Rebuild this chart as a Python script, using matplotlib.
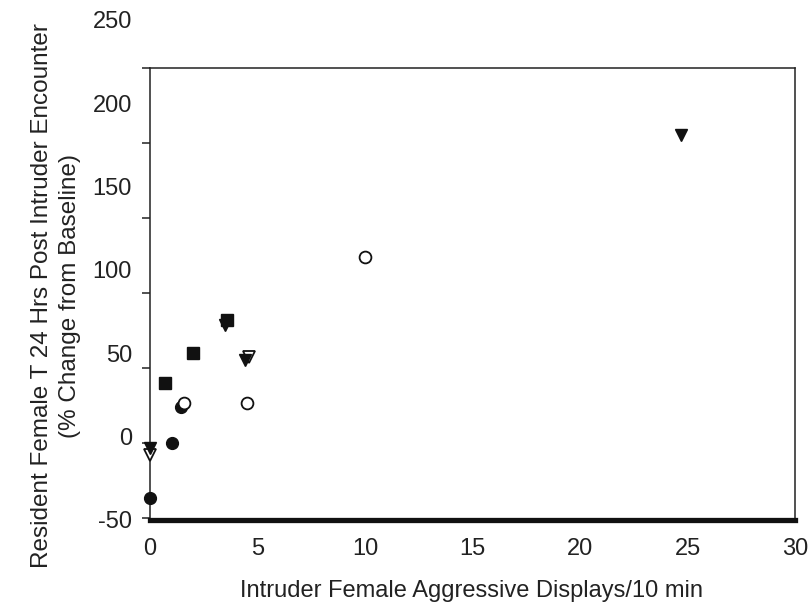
import matplotlib
matplotlib.use("Agg")
import matplotlib.pyplot as plt

plt.rcParams["font.family"] = ["Liberation Sans", "DejaVu Sans"]
plt.rcParams["axes.unicode_minus"] = False

# data (x = displays/10 min, y = % change)
filled_circle_x = [0.0, 1.0, 1.45]
filled_circle_y = [-37, -4, 18]
open_circle_x = [1.6, 4.5, 10.0]
open_circle_y = [20, 20, 108]
square_x = [0.7, 2.0, 3.6]
square_y = [32, 50, 70]
filled_tri_x = [0.0, 3.5, 4.4, 24.7]
filled_tri_y = [-7, 67, 46, 181]
open_tri_x = [0.0, 4.6]
open_tri_y = [-11, 48]

xticks = [0, 5, 10, 15, 20, 25, 30]
yticks = [-50, 0, 50, 100, 150, 200, 250]
# tick marks on the left spine sit off the labels in the original
ytick_marks = [-48.8, -3.8, 41.2, 86.2, 131.2, 176.2, 221.2]
frame_top = 221.2

fig = plt.figure(figsize=(8.11, 6.10), dpi=100)
ax = fig.add_axes([150 / 811, 1 - 520 / 610, 645 / 811, 500 / 610])

ink = "#111111"
ax.plot(open_tri_x, open_tri_y, "v", ms=9, mfc="white", mec=ink, mew=1.3, ls="none", zorder=3, clip_on=False)
ax.plot(filled_tri_x, filled_tri_y, "v", ms=9, color=ink, ls="none", zorder=4, clip_on=False)
ax.plot(filled_circle_x, filled_circle_y, "o", ms=8.5, color=ink, ls="none", zorder=3, clip_on=False)
ax.plot(open_circle_x, open_circle_y, "o", ms=8.5, mfc="white", mec=ink, mew=1.3, ls="none", zorder=4, clip_on=False)
ax.plot(square_x, square_y, "s", ms=8, color=ink, ls="none", zorder=5, clip_on=False)

ax.set_xlim(0, 30)
ax.set_ylim(-50, 250)

ax.spines["top"].set_position(("data", frame_top))
ax.spines["left"].set_bounds(-50, frame_top)
ax.spines["right"].set_bounds(-50, frame_top)
for s in ["top", "left", "right"]:
    ax.spines[s].set_linewidth(1.1)
    ax.spines[s].set_color("#222222")
ax.spines["bottom"].set_linewidth(3.8)
ax.spines["bottom"].set_color(ink)

ax.set_xticks(xticks)
ax.set_yticks(yticks)
ax.set_yticks(ytick_marks, minor=True)
ax.tick_params(axis="y", which="major", length=0, pad=13, labelsize=17, labelcolor="#222222")
ax.tick_params(axis="y", which="minor", length=6, width=1.1, color="#222222", direction="out")
ax.tick_params(axis="x", length=0, pad=13, labelsize=17, labelcolor="#222222")
ax.tick_params(top=False, right=False)

fig.text(472 / 811, 1 - 591 / 610, "Intruder Female Aggressive Displays/10 min",
         ha="center", va="center", fontsize=17, color="#222222")
fig.text(56 / 811, 1 - 296 / 610,
         "Resident Female T 24 Hrs Post Intruder Encounter\n(% Change from Baseline)",
         ha="center", va="center", rotation=90, fontsize=17.5, color="#222222",
         linespacing=1.4, multialignment="center")

fig.savefig("out.png", dpi=100)
